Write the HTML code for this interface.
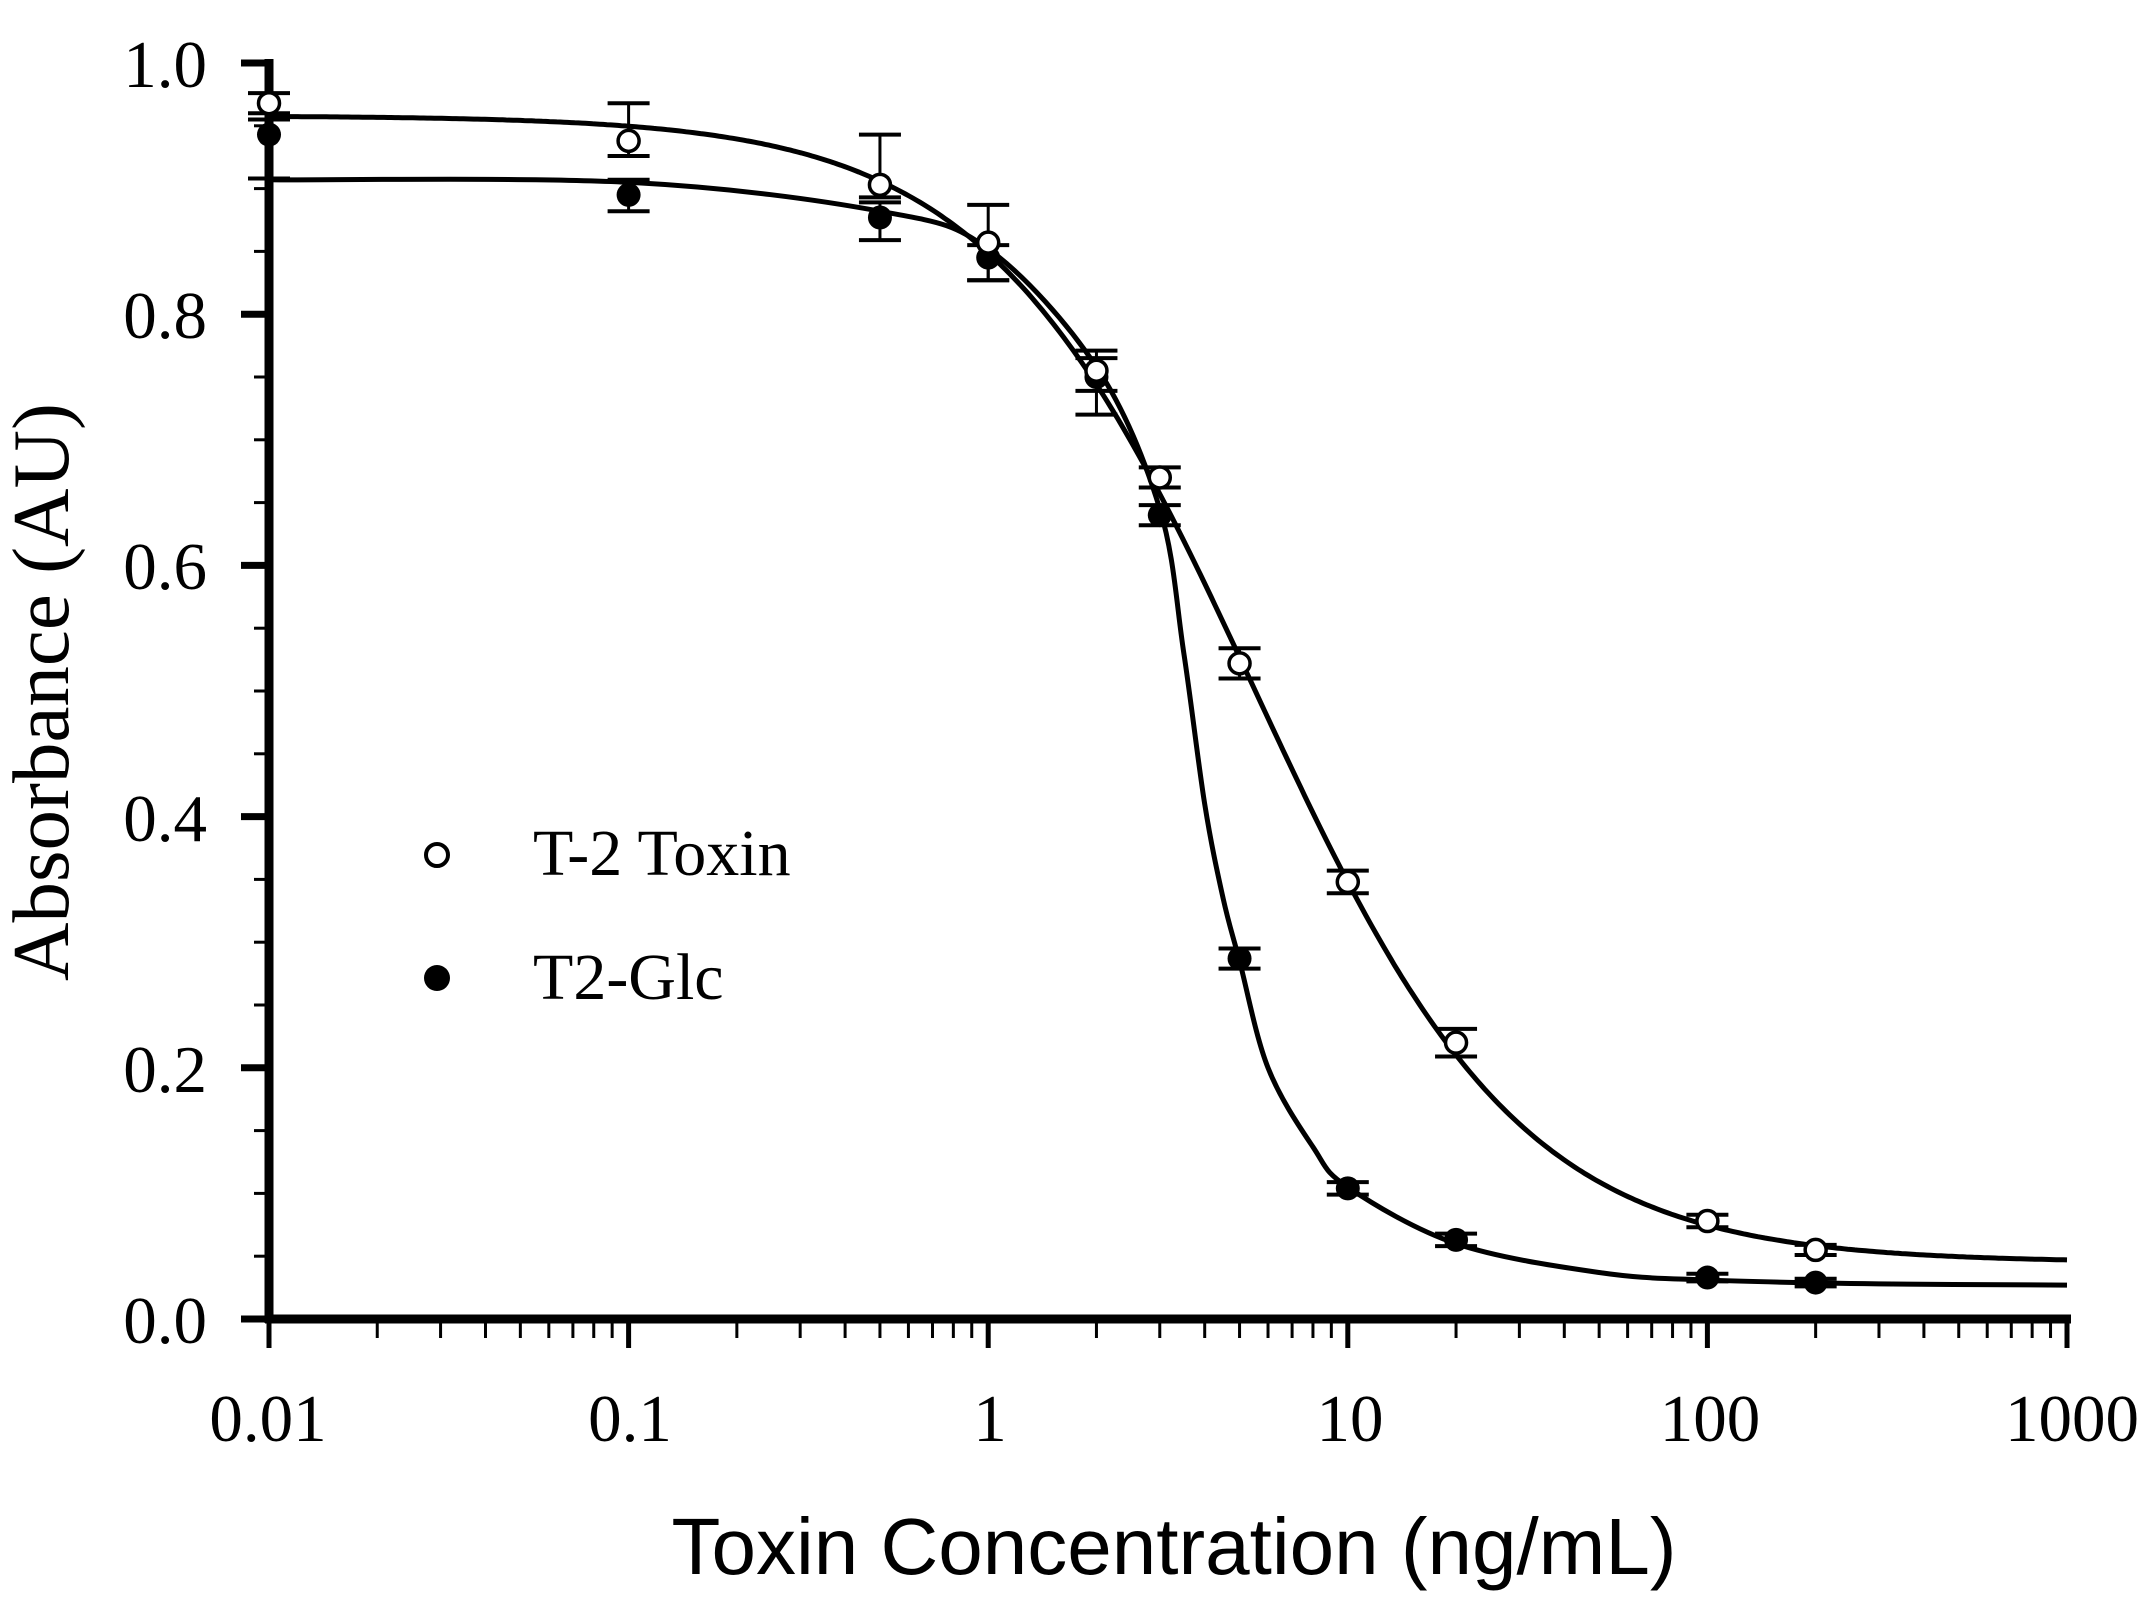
<!DOCTYPE html>
<html><head><meta charset="utf-8"><style>
html,body{margin:0;padding:0;background:#fff;}
svg{display:block;}
</style></head><body>
<svg id="s" width="2150" height="1621" xmlns="http://www.w3.org/2000/svg">
<rect width="2150" height="1621" fill="#fff"/>
<g id="g"></g>
<g font-family="Liberation Serif,serif" font-size="67" text-anchor="end">
<text x="207" y="87">1.0</text>
<text x="207" y="338">0.8</text>
<text x="207" y="589">0.6</text>
<text x="207" y="841">0.4</text>
<text x="207" y="1092">0.2</text>
<text x="207" y="1343">0.0</text>
</g>
<g font-family="Liberation Serif,serif" font-size="67" text-anchor="middle">
<text x="268" y="1441">0.01</text>
<text x="630" y="1441">0.1</text>
<text x="990" y="1441">1</text>
<text x="1350" y="1441">10</text>
<text x="1710" y="1441">100</text>
<text x="2072" y="1441">1000</text>
</g>
<text x="1174" y="1574" font-family="Liberation Sans,sans-serif" font-size="80" text-anchor="middle">Toxin Concentration (ng/mL)</text>
<text transform="translate(68,692) rotate(-90)" font-family="Liberation Serif,serif" font-size="81" text-anchor="middle">Absorbance (AU)</text>
<circle cx="437" cy="855" r="11" fill="#fff" stroke="#000" stroke-width="4"/>
<circle cx="437" cy="978" r="13" fill="#000"/>
<text x="533" y="875" font-family="Liberation Serif,serif" font-size="66">T-2 Toxin</text>
<text x="533" y="999" font-family="Liberation Serif,serif" font-size="66">T2-Glc</text>
</svg>
<script>
var g=document.getElementById('g');var NS='http://www.w3.org/2000/svg';
function X(c){return 269+359.6*(Math.log10(c)+2);}
function Y(v){return 1319-1256*v;}
function el(t,a){var e=document.createElementNS(NS,t);for(var k in a)e.setAttribute(k,a[k]);g.appendChild(e);return e;}
el('line',{x1:269,y1:59,x2:269,y2:1323,stroke:'#000','stroke-width':9});
el('line',{x1:265,y1:1319,x2:2071,y2:1319,stroke:'#000','stroke-width':9});
for(var i=0;i<=20;i++){var v=i*0.05;var y=Y(v);var major=(i%4==0);el('line',{x1:major?241:254,y1:y,x2:269,y2:y,stroke:'#000','stroke-width':major?7:3});}
for(var d=-2;d<3;d++){for(var m=1;m<10;m++){var c=m*Math.pow(10,d);var x=X(c);el('line',{x1:x,y1:1319,x2:x,y2:m==1?1348:1338,stroke:'#000','stroke-width':m==1?5:3});}}
el('line',{x1:X(1000),y1:1319,x2:X(1000),y2:1348,stroke:'#000','stroke-width':5});
function t2(c){return 0.045+0.913/(1+Math.pow(c/5.5,1.17));}
var p='';for(var k=0;k<=500;k++){var lc=-2+5*k/500;var c=Math.pow(10,lc);p+=(k?'L':'M')+X(c).toFixed(1)+','+Y(t2(c)).toFixed(1);}
el('path',{d:p,fill:'none',stroke:'#000','stroke-width':5});
var gp=[[0.01,0.907],[0.1,0.905],[0.5,0.882],[1,0.852],[2,0.758],[3,0.645],[3.5,0.53],[4,0.41],[4.5,0.335],[5,0.285],[6,0.2],[8,0.137],[10,0.105],[20,0.06],[50,0.037],[100,0.031],[300,0.028],[1000,0.027]];
var pts=gp.map(function(q){return [X(q[0]),Y(q[1])];});
var s='M'+pts[0][0]+','+pts[0][1];
for(var i=0;i<pts.length-1;i++){var p0=pts[Math.max(0,i-1)],p1=pts[i],p2=pts[i+1],p3=pts[Math.min(pts.length-1,i+2)];
s+='C'+(p1[0]+(p2[0]-p0[0])/6)+','+(p1[1]+(p2[1]-p0[1])/6)+' '+(p2[0]-(p3[0]-p1[0])/6)+','+(p2[1]-(p3[1]-p1[1])/6)+' '+p2[0]+','+p2[1];}
el('path',{d:s,fill:'none',stroke:'#000','stroke-width':5});
var T=[[0.01,0.968,0.008,0.008],[0.1,0.938,0.03,0.012],[0.5,0.903,0.04,0.01],[1,0.857,0.03,0.03],[2,0.755,0.016,0.016],[3,0.670,0.008,0.008],[5,0.522,0.012,0.012],[10,0.348,0.009,0.009],[20,0.220,0.011,0.011],[100,0.078,0.005,0.005],[200,0.055,0.004,0.004]];
var G=[[0.01,0.943,0.012,0.035],[0.1,0.895,0.012,0.013],[0.5,0.877,0.012,0.018],[1,0.845,0.01,0.018],[2,0.75,0.015,0.03],[3,0.64,0.008,0.008],[5,0.287,0.008,0.008],[10,0.104,0.005,0.005],[20,0.063,0.005,0.005],[100,0.033,0.003,0.003],[200,0.029,0.003,0.003]];
function bars(D){D.forEach(function(q){var x=X(q[0]);var y1=Y(q[1]+q[2]),y2=Y(q[1]-q[3]);
el('line',{x1:x,y1:y1,x2:x,y2:y2,stroke:'#000','stroke-width':3});
el('line',{x1:x-21,y1:y1,x2:x+21,y2:y1,stroke:'#000','stroke-width':4});
el('line',{x1:x-21,y1:y2,x2:x+21,y2:y2,stroke:'#000','stroke-width':4});});}
bars(T);bars(G);
G.forEach(function(q){el('circle',{cx:X(q[0]),cy:Y(q[1]),r:12,fill:'#000'});});
T.forEach(function(q){el('circle',{cx:X(q[0]),cy:Y(q[1]),r:10.5,fill:'#fff',stroke:'#000','stroke-width':3.5});});
</script>
</body></html>
